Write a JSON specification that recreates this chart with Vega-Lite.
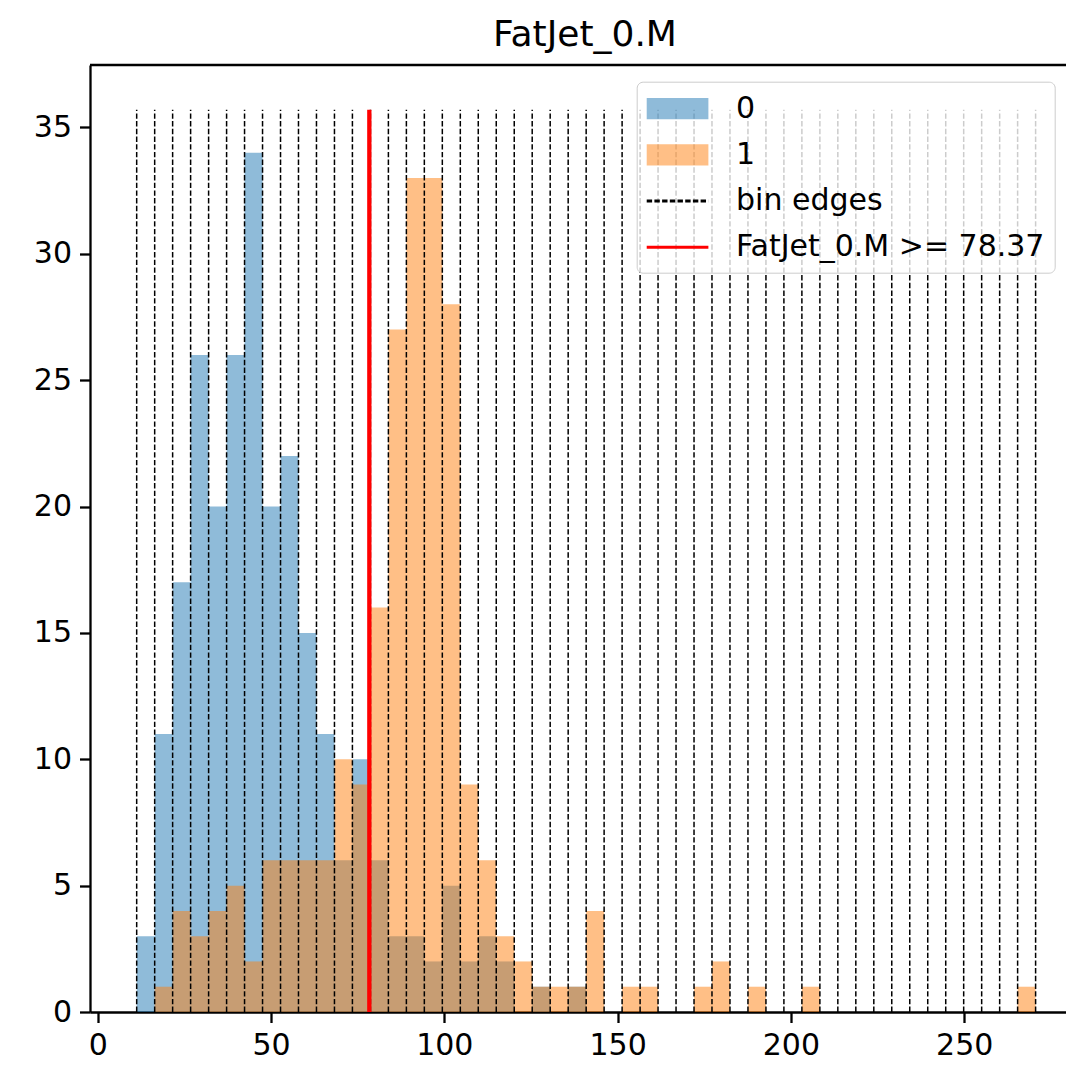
{
  "$schema": "https://vega.github.io/schema/vega-lite/v6.json",
  "autosize": {"type": "none"},
  "padding": {"left": 90, "top": 65, "right": 0, "bottom": 53},
  "width": 976,
  "height": 947,
  "title": {"text": "FatJet_0.M", "fontSize": 36, "font": "DejaVu Sans", "fontWeight": "normal", "color": "#000", "anchor": "middle", "frame": "group", "dx": 7, "offset": -26, "baseline": "bottom"},
  "config": {
    "view": {"stroke": null},
    "axis": {"domainColor": "#000", "domainWidth": 2.3, "tickColor": "#000", "tickWidth": 2.3, "tickSize": 10.5, "labelFont": "DejaVu Sans", "labelFontSize": 30, "labelColor": "#000", "labelPadding": 8, "grid": false, "title": null, "labelFlush": false, "labelOverlap": false},
    "legend": {"labelFont": "DejaVu Sans", "labelFontSize": 30, "labelColor": "#000", "labelLimit": 0, "padding": 10, "rowPadding": 14.2, "labelOffset": 41.45, "symbolOffset": 13.85, "symbolSize": 951, "symbolStrokeWidth": 3}
  },
  "datasets": {
    "bins": [
      {"class": "0", "lo": 11.25, "hi": 16.44, "count": 3},
      {"class": "0", "lo": 16.44, "hi": 21.62, "count": 11},
      {"class": "0", "lo": 21.62, "hi": 26.81, "count": 17},
      {"class": "0", "lo": 26.81, "hi": 32.00, "count": 26},
      {"class": "0", "lo": 32.00, "hi": 37.19, "count": 20},
      {"class": "0", "lo": 37.19, "hi": 42.37, "count": 26},
      {"class": "0", "lo": 42.37, "hi": 47.56, "count": 34},
      {"class": "0", "lo": 47.56, "hi": 52.75, "count": 20},
      {"class": "0", "lo": 52.75, "hi": 57.93, "count": 22},
      {"class": "0", "lo": 57.93, "hi": 63.12, "count": 15},
      {"class": "0", "lo": 63.12, "hi": 68.31, "count": 11},
      {"class": "0", "lo": 68.31, "hi": 73.49, "count": 6},
      {"class": "0", "lo": 73.49, "hi": 78.68, "count": 10},
      {"class": "0", "lo": 78.68, "hi": 83.87, "count": 6},
      {"class": "0", "lo": 83.87, "hi": 89.06, "count": 3},
      {"class": "0", "lo": 89.06, "hi": 94.24, "count": 3},
      {"class": "0", "lo": 94.24, "hi": 99.43, "count": 2},
      {"class": "0", "lo": 99.43, "hi": 104.62, "count": 5},
      {"class": "0", "lo": 104.62, "hi": 109.80, "count": 2},
      {"class": "0", "lo": 109.80, "hi": 114.99, "count": 3},
      {"class": "0", "lo": 114.99, "hi": 120.18, "count": 2},
      {"class": "0", "lo": 125.36, "hi": 130.55, "count": 1},
      {"class": "0", "lo": 135.74, "hi": 140.93, "count": 1},
      {"class": "1", "lo": 16.44, "hi": 21.62, "count": 1},
      {"class": "1", "lo": 21.62, "hi": 26.81, "count": 4},
      {"class": "1", "lo": 26.81, "hi": 32.00, "count": 3},
      {"class": "1", "lo": 32.00, "hi": 37.19, "count": 4},
      {"class": "1", "lo": 37.19, "hi": 42.37, "count": 5},
      {"class": "1", "lo": 42.37, "hi": 47.56, "count": 2},
      {"class": "1", "lo": 47.56, "hi": 52.75, "count": 6},
      {"class": "1", "lo": 52.75, "hi": 57.93, "count": 6},
      {"class": "1", "lo": 57.93, "hi": 63.12, "count": 6},
      {"class": "1", "lo": 63.12, "hi": 68.31, "count": 6},
      {"class": "1", "lo": 68.31, "hi": 73.49, "count": 10},
      {"class": "1", "lo": 73.49, "hi": 78.68, "count": 9},
      {"class": "1", "lo": 78.68, "hi": 83.87, "count": 16},
      {"class": "1", "lo": 83.87, "hi": 89.06, "count": 27},
      {"class": "1", "lo": 89.06, "hi": 94.24, "count": 33},
      {"class": "1", "lo": 94.24, "hi": 99.43, "count": 33},
      {"class": "1", "lo": 99.43, "hi": 104.62, "count": 28},
      {"class": "1", "lo": 104.62, "hi": 109.80, "count": 9},
      {"class": "1", "lo": 109.80, "hi": 114.99, "count": 6},
      {"class": "1", "lo": 114.99, "hi": 120.18, "count": 3},
      {"class": "1", "lo": 120.18, "hi": 125.36, "count": 2},
      {"class": "1", "lo": 125.36, "hi": 130.55, "count": 1},
      {"class": "1", "lo": 130.55, "hi": 135.74, "count": 1},
      {"class": "1", "lo": 135.74, "hi": 140.93, "count": 1},
      {"class": "1", "lo": 140.93, "hi": 146.11, "count": 4},
      {"class": "1", "lo": 151.30, "hi": 156.49, "count": 1},
      {"class": "1", "lo": 156.49, "hi": 161.67, "count": 1},
      {"class": "1", "lo": 172.05, "hi": 177.23, "count": 1},
      {"class": "1", "lo": 177.23, "hi": 182.42, "count": 2},
      {"class": "1", "lo": 187.61, "hi": 192.80, "count": 1},
      {"class": "1", "lo": 203.17, "hi": 208.36, "count": 1},
      {"class": "1", "lo": 265.41, "hi": 270.60, "count": 1}
    ],
    "edges": [
      {"edge": 11.25, "series": "bin edges"}, {"edge": 16.44, "series": "bin edges"}, {"edge": 21.62, "series": "bin edges"},
      {"edge": 26.81, "series": "bin edges"}, {"edge": 32.00, "series": "bin edges"}, {"edge": 37.19, "series": "bin edges"},
      {"edge": 42.37, "series": "bin edges"}, {"edge": 47.56, "series": "bin edges"}, {"edge": 52.75, "series": "bin edges"},
      {"edge": 57.93, "series": "bin edges"}, {"edge": 63.12, "series": "bin edges"}, {"edge": 68.31, "series": "bin edges"},
      {"edge": 73.49, "series": "bin edges"}, {"edge": 78.68, "series": "bin edges"}, {"edge": 83.87, "series": "bin edges"},
      {"edge": 89.06, "series": "bin edges"}, {"edge": 94.24, "series": "bin edges"}, {"edge": 99.43, "series": "bin edges"},
      {"edge": 104.62, "series": "bin edges"}, {"edge": 109.80, "series": "bin edges"}, {"edge": 114.99, "series": "bin edges"},
      {"edge": 120.18, "series": "bin edges"}, {"edge": 125.36, "series": "bin edges"}, {"edge": 130.55, "series": "bin edges"},
      {"edge": 135.74, "series": "bin edges"}, {"edge": 140.93, "series": "bin edges"}, {"edge": 146.11, "series": "bin edges"},
      {"edge": 151.30, "series": "bin edges"}, {"edge": 156.49, "series": "bin edges"}, {"edge": 161.67, "series": "bin edges"},
      {"edge": 166.86, "series": "bin edges"}, {"edge": 172.05, "series": "bin edges"}, {"edge": 177.23, "series": "bin edges"},
      {"edge": 182.42, "series": "bin edges"}, {"edge": 187.61, "series": "bin edges"}, {"edge": 192.80, "series": "bin edges"},
      {"edge": 197.98, "series": "bin edges"}, {"edge": 203.17, "series": "bin edges"}, {"edge": 208.36, "series": "bin edges"},
      {"edge": 213.54, "series": "bin edges"}, {"edge": 218.73, "series": "bin edges"}, {"edge": 223.92, "series": "bin edges"},
      {"edge": 229.10, "series": "bin edges"}, {"edge": 234.29, "series": "bin edges"}, {"edge": 239.48, "series": "bin edges"},
      {"edge": 244.67, "series": "bin edges"}, {"edge": 249.85, "series": "bin edges"}, {"edge": 255.04, "series": "bin edges"},
      {"edge": 260.23, "series": "bin edges"}, {"edge": 265.41, "series": "bin edges"}, {"edge": 270.60, "series": "bin edges"}
    ],
    "threshold": [{"thr": 78.37, "bottom": 0, "top": 35.7, "series": "FatJet_0.M >= 78.37"}]
  },
  "layer": [
    {
      "data": {"name": "bins"},
      "mark": {"type": "bar", "opacity": 0.5},
      "encoding": {
        "x": {"field": "lo", "type": "quantitative", "scale": {"domain": [-2.22, 279.37], "nice": false, "zero": false},
              "axis": {"orient": "bottom", "values": [0, 50, 100, 150, 200, 250]}},
        "x2": {"field": "hi"},
        "y": {"field": "count", "type": "quantitative", "scale": {"domain": [0, 37.47], "nice": false},
              "axis": {"values": [0, 5, 10, 15, 20, 25, 30, 35]}},
        "y2": {"datum": 0},
        "color": {
          "field": "class", "type": "nominal",
          "scale": {"domain": ["0", "1", "bin edges", "FatJet_0.M >= 78.37"], "range": ["#1f77b4", "#ff7f0e", "transparent", "transparent"]},
          "legend": {
            "orient": "none", "legendX": 546.7, "legendY": 16.7, "title": null,
            "symbolType": "M-2,-0.69H2V0.69H-2Z",
            "fillColor": "rgba(255,255,255,0.8)", "strokeColor": "#cccccc", "cornerRadius": 6
          }
        }
      }
    },
    {
      "data": {"name": "edges"},
      "mark": {"type": "rule", "strokeWidth": 1.5},
      "encoding": {
        "x": {"field": "edge", "type": "quantitative"},
        "y": {"datum": 0, "type": "quantitative"},
        "y2": {"datum": 35.7},
        "stroke": {
          "field": "series", "type": "nominal",
          "scale": {"domain": [" 0", " 1", "bin edges", "FatJet_0.M >= 78.37"], "range": ["transparent", "transparent", "#000000", "#ff0000"]},
          "legend": {"orient": "none", "legendX": 546.7, "legendY": 16.7, "title": null, "symbolType": "M-2,0H2", "labelOpacity": 0}
        },
        "strokeDash": {
          "field": "series", "type": "nominal",
          "scale": {"domain": [" 0", " 1", "bin edges", "FatJet_0.M >= 78.37"], "range": [[1, 0], [1, 0], [5.4, 2.3], [1, 0]]},
          "legend": {"orient": "none", "legendX": 546.7, "legendY": 16.7, "title": null, "symbolType": "M-2,0H2", "labelOpacity": 0}
        }
      }
    },
    {
      "data": {"name": "threshold"},
      "mark": {"type": "rule", "strokeWidth": 4.3},
      "encoding": {
        "x": {"field": "thr", "type": "quantitative"},
        "y": {"field": "bottom", "type": "quantitative"},
        "y2": {"field": "top"},
        "stroke": {"field": "series", "type": "nominal"},
        "strokeDash": {"field": "series", "type": "nominal"}
      }
    },
    {
      "data": {"name": "threshold"},
      "mark": {"type": "rule", "strokeWidth": 2.3, "color": "#000"},
      "encoding": {
        "y": {"datum": 37.47, "type": "quantitative"}
      }
    }
  ]
}
